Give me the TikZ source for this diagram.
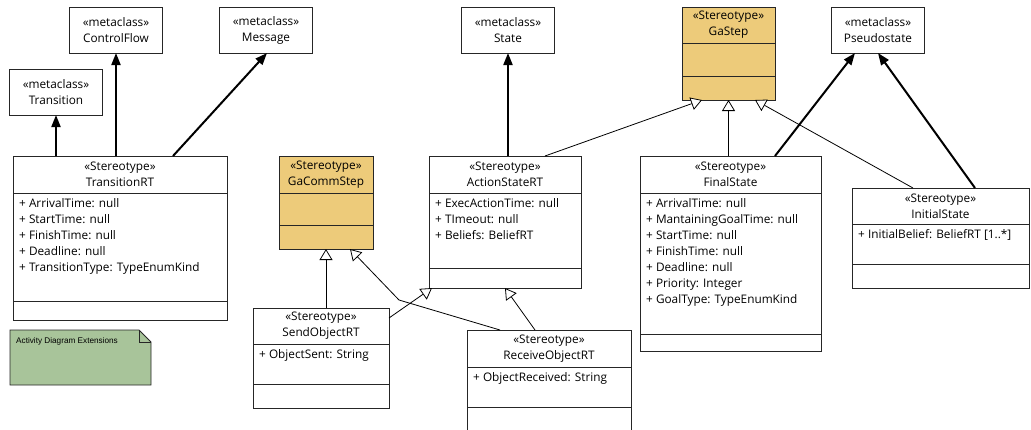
\documentclass[tikz,border=0pt]{standalone}
\usepackage{fontspec}
\setmainfont{Open Sans}
\newfontfamily\notefont{Liberation Sans}
\usepackage{xcolor}
\usetikzlibrary{arrows.meta}
\definecolor{stepfill}{HTML}{EDCB7A}
\definecolor{notefill}{HTML}{A8C49A}
\newcommand{\umlfont}{\fontsize{11.8}{16}\selectfont}
\tikzset{
  classbox/.style={draw=black!85, line width=0.9pt, fill=white, inner sep=0pt, outer sep=0pt},
  metabox/.style={classbox, minimum width=93pt, minimum height=46pt, align=center, font=\umlfont},
  headtext/.style={align=center, font=\umlfont, inner sep=0pt},
  attrtext/.style={align=left, anchor=north west, font=\umlfont, inner sep=0pt},
  compline/.style={draw=black!85, line width=0.9pt},
  extension/.style={line width=2pt, -{Triangle[width=9pt,length=12pt]}},
  generalization/.style={line width=0.8pt, -{Triangle[open,fill=white,width=13pt,length=11pt,line width=0.8pt]}},
}
% name, style, corner, width, height, header, footer, title, attributes
\newcommand{\umlclass}[9]{%
  \node[classbox, #2, minimum width=#4pt, minimum height=#5pt, anchor=north west] (#1) at (#3) {};
  \draw[compline] ([yshift=-#6pt]#1.north west) -- ([yshift=-#6pt]#1.north east);
  \draw[compline] ([yshift=-#7pt]#1.north west) -- ([yshift=-#7pt]#1.north east);
  \node[headtext] (#1-head) at ([yshift={-0.5*#6pt}]#1.north) {«Stereotype»\\#8};
  \node[attrtext] (#1-attr) at ([xshift=6pt,yshift={-#6pt-5pt}]#1.north west) {#9};
}

\begin{document}
\begin{tikzpicture}[x=1pt,y=-1pt]
  \clip (0,0) rectangle (1031,429);

  % metaclasses
  \node[metabox] (trans) at (56,92) {«metaclass»\\Transition};
  \node[metabox] (cf) at (116,30) {«metaclass»\\ControlFlow};
  \node[metabox] (msg) at (266,30) {«metaclass»\\Message};
  \node[metabox] (state) at (508,30) {«metaclass»\\State};
  \node[metabox] (pseudo) at (878,30) {«metaclass»\\Pseudostate};

  % stereotypes
  \umlclass{gs}{fill=stepfill}{682,7}{93}{93}{36}{69}{GaStep}{}
  \umlclass{gcs}{fill=stepfill}{279,156}{94}{93}{37}{69}{GaCommStep}{}
  \umlclass{trt}{}{13,156}{214}{164}{37}{145}{TransitionRT}%
    {+ ArrivalTime: null\\+ StartTime: null\\+ FinishTime: null\\+ Deadline: null\\+ TransitionType: TypeEnumKind}
  \umlclass{asrt}{}{429,156}{152}{132}{37}{112}{ActionStateRT}%
    {+ ExecActionTime: null\\+ TImeout: null\\+ Beliefs: BeliefRT}
  \umlclass{fs}{}{640,156}{181}{195}{37}{178}{FinalState}%
    {+ ArrivalTime: null\\+ MantainingGoalTime: null\\+ StartTime: null\\+ FinishTime: null\\+ Deadline: null\\+ Priority: Integer\\+ GoalType: TypeEnumKind}
  \umlclass{ist}{}{852,188}{177}{100}{36}{76}{InitialState}%
    {+ InitialBelief: BeliefRT [1..*]}
  \umlclass{sor}{}{253,308}{136}{100}{36}{76}{SendObjectRT}%
    {+ ObjectSent: String}
  \umlclass{ror}{}{467,330}{164}{120}{37}{77}{ReceiveObjectRT}%
    {+ ObjectReceived: String}

  % note
  \draw[classbox, fill=notefill] (10,330) -- (139,330) -- (151,342) -- (151,385) -- (10,385) -- cycle;
  \draw[compline] (139,330) -- (139,342) -- (151,342);
  \node[anchor=west, inner sep=0pt, font=\notefont\fontsize{8.2}{10}\selectfont] (note) at (16,341) {Activity Diagram Extensions};

  % extensions
  \draw[extension] (trt.north -| trans.south) -- (trans.south);
  \draw[extension] (trt.north -| cf.south) -- (cf.south);
  \draw[extension] ([xshift=160pt]trt.north west) -- ([xshift=1pt]msg.south);
  \draw[extension] (asrt.north -| state.south) -- (state.south);
  \draw[extension] ([xshift=135pt]fs.north west) -- ([xshift=-23pt]pseudo.south);
  \draw[extension] ([xshift=123pt]ist.north west) -- (pseudo.south);

  % generalizations
  \coordinate (bend) at (399,300);
  \draw[generalization] ([xshift=116pt]asrt.north west) -- ([xshift=20pt]gs.south west);
  \draw[generalization] (fs.north -| gs.south) -- (gs.south);
  \draw[generalization] ([xshift=61pt]ist.north west) -- ([xshift=-20pt]gs.south east);
  \draw[generalization] (sor.north -| gcs.south) -- (gcs.south);
  \draw[generalization] ([xshift=33pt]ror.north west) -- (bend) -- ([xshift=-23pt]gcs.south east);
  \draw[generalization] ([yshift=-10pt]sor.north east) -- ([xshift=3pt]asrt.south west);
  \draw[generalization] ([xshift=68pt]ror.north west) -- (asrt.south);
\end{tikzpicture}
\end{document}
